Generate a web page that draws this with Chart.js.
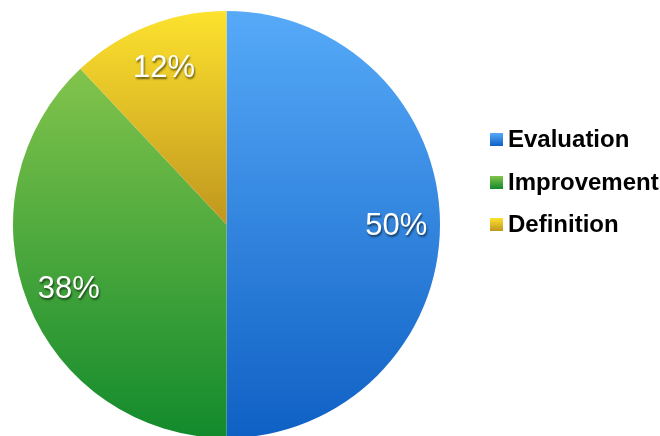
<!DOCTYPE html>
<html><head><meta charset="utf-8">
<script src="https://cdn.jsdelivr.net/npm/chart.js@4/dist/chart.umd.min.js"></script>
<style>
html,body{margin:0;padding:0;background:#fff;overflow:hidden;}
#wrap{position:relative;width:660px;height:436px;overflow:hidden;}
canvas{position:absolute;left:0;top:0;}
.leg{position:absolute;left:490px;font:bold 24px "Liberation Sans",Arial,sans-serif;color:#000;white-space:nowrap;}
.leg span.m{position:absolute;left:0;width:13px;height:13px;}
.leg span.t{position:absolute;left:18px;}
</style></head>
<body><div id="wrap"><canvas id="c" width="660" height="450"></canvas></div>
<script>
const categories = ["Evaluation", "Improvement", "Definition"];
const values = [50, 38, 12];
const labelsText = ["50%", "38%", "12%"];
const gradTop = ["#56aaf8", "#82c44c", "#fde22e"];
const gradBottom = ["#0f60c4", "#128a2c", "#c0961e"];

function sliceExtent(chart, i) {
  const a = chart.chartArea;
  const cx = (a.left + a.right) / 2, cy = (a.top + a.bottom) / 2;
  const r = Math.min(a.right - a.left, a.bottom - a.top) / 2;
  const total = values.reduce((s, v) => s + v, 0);
  let start = 0;
  for (let k = 0; k < i; k++) start += values[k] / total * 2 * Math.PI;
  const end = start + values[i] / total * 2 * Math.PI;
  const ys = [cy];
  const n = 60;
  for (let k = 0; k <= n; k++) {
    const t = start + (end - start) * k / n;
    ys.push(cy - r * Math.cos(t));
  }
  return [Math.min(...ys), Math.max(...ys)];
}

const labelPlugin = {
  id: 'pctLabels',
  afterDatasetsDraw(chart) {
    const ctx = chart.ctx;
    const meta = chart.getDatasetMeta(0);
    ctx.save();
    ctx.font = '31px "Liberation Sans", Arial, sans-serif';
    ctx.textAlign = 'center';
    ctx.textBaseline = 'middle';
    ctx.fillStyle = '#ffffff';
    ctx.shadowColor = 'rgba(0,0,0,0.55)';
    ctx.shadowOffsetX = 1;
    ctx.shadowOffsetY = 2;
    ctx.shadowBlur = 2;
    meta.data.forEach((arc, i) => {
      const mid = (arc.startAngle + arc.endAngle) / 2;
      const d = arc.outerRadius * 0.795;
      ctx.fillText(labelsText[i], arc.x + Math.cos(mid) * d, arc.y + Math.sin(mid) * d + 2);
    });
    ctx.restore();
  }
};

new Chart(document.getElementById('c'), {
  type: 'pie',
  data: {
    labels: categories,
    datasets: [{
      data: values,
      borderWidth: 0,
      backgroundColor: (ctx) => {
        const chart = ctx.chart;
        if (!chart.chartArea) return gradTop[ctx.dataIndex];
        const [y0, y1] = sliceExtent(chart, ctx.dataIndex);
        const g = chart.ctx.createLinearGradient(0, y0, 0, y1);
        g.addColorStop(0, gradTop[ctx.dataIndex]);
        g.addColorStop(1, gradBottom[ctx.dataIndex]);
        return g;
      }
    }]
  },
  options: {
    responsive: false,
    animation: false,
    layout: { padding: { left: 13, right: 220, top: 11, bottom: 12 } },
    plugins: { legend: { display: false }, tooltip: { enabled: false } }
  },
  plugins: [labelPlugin]
});

const wrap = document.getElementById('wrap');
const legY = [139, 182.5, 224.5];
categories.forEach((c, i) => {
  const d = document.createElement('div');
  d.className = 'leg';
  d.style.top = (legY[i] - 6.5) + 'px';
  const m = document.createElement('span');
  m.className = 'm';
  m.style.background = 'linear-gradient(' + gradTop[i] + ',' + gradBottom[i] + ')';
  const t = document.createElement('span');
  t.className = 't';
  t.style.top = '-8px';
  t.textContent = c;
  d.appendChild(m); d.appendChild(t);
  wrap.appendChild(d);
});
</script></body></html>
